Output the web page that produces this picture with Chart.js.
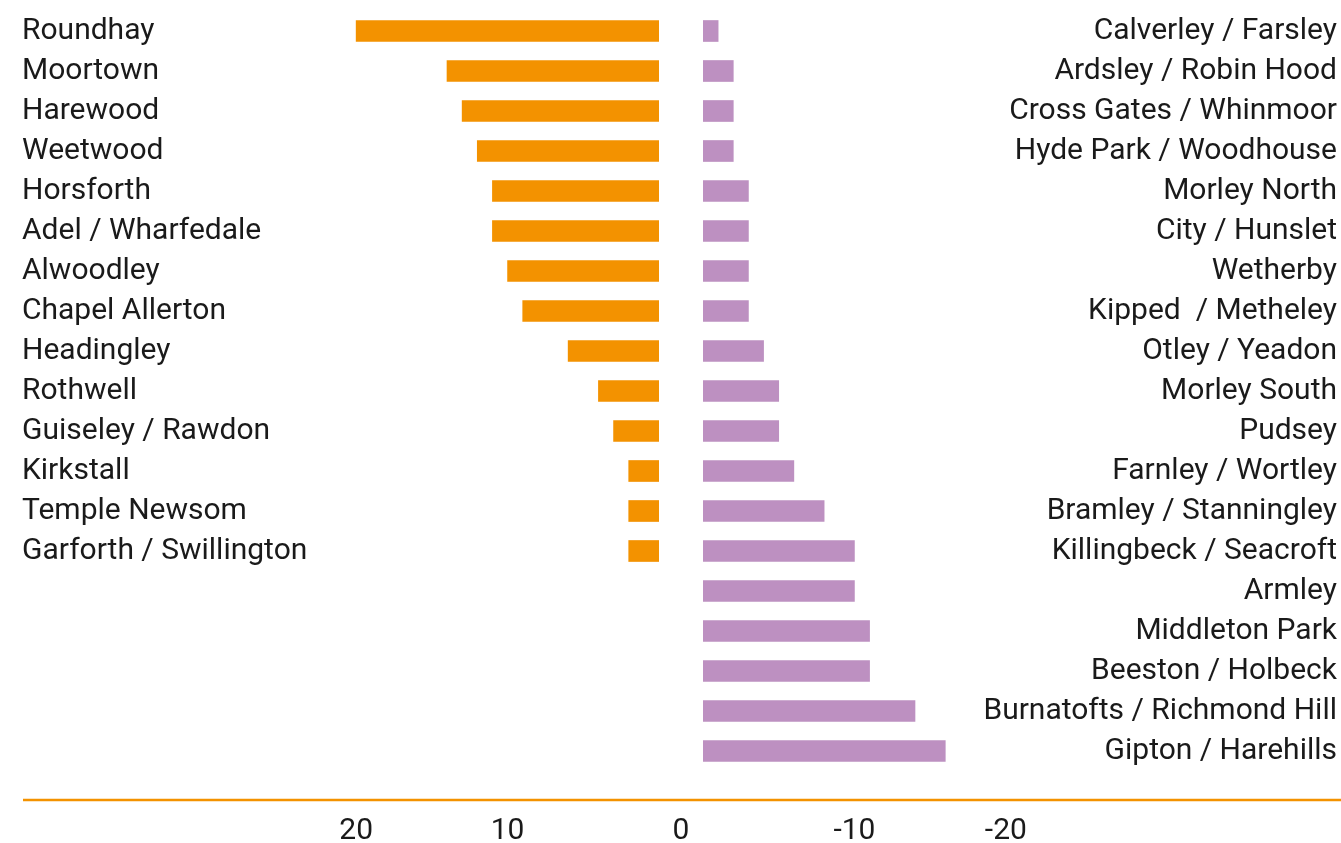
<!DOCTYPE html>
<html>
<head>
<meta charset="utf-8">
<script src="https://cdn.jsdelivr.net/npm/chart.js@4/dist/chart.umd.min.js"></script>
<style>
  html, body { margin: 0; padding: 0; background: #ffffff; }
  #wrap { position: relative; width: 1341px; height: 843px; }
  canvas { display: block; }
</style>
</head>
<body>
<div id="wrap"><canvas id="c" width="1341" height="843"></canvas></div>
<script>
// ---- Data ----
const leftNames = ["Roundhay", "Moortown", "Harewood", "Weetwood", "Horsforth", "Adel / Wharfedale",
  "Alwoodley", "Chapel Allerton", "Headingley", "Rothwell", "Guiseley / Rawdon", "Kirkstall",
  "Temple Newsom", "Garforth / Swillington"];
const leftValues = [20, 14, 13, 12, 11, 11, 10, 9, 6, 4, 3, 2, 2, 2];

const rightNames = ["Calverley / Farsley", "Ardsley / Robin Hood", "Cross Gates / Whinmoor",
  "Hyde Park / Woodhouse", "Morley North", "City / Hunslet", "Wetherby", "Kipped  / Metheley",
  "Otley / Yeadon", "Morley South", "Pudsey", "Farnley / Wortley", "Bramley / Stanningley",
  "Killingbeck / Seacroft", "Armley", "Middleton Park", "Beeston / Holbeck",
  "Burnatofts / Richmond Hill", "Gipton / Harehills"];
const rightValues = [-1, -2, -2, -2, -3, -3, -3, -3, -4, -5, -5, -6, -8, -10, -10, -11, -11, -14, -16];

const leftTicks = [20, 10];
const middleTicks = [0];
const rightTicks = [-10, -20];

// ---- Styles ----
const ORANGE = '#F39200';
const PURPLE = '#BD90C1';
const TEXT = '#1a1a1a';
const FONT = 'Roboto, "Noto Sans", sans-serif';

const leftLabels = leftNames.concat(Array(rightNames.length - leftNames.length).fill(''));

function setTicks(values) {
  return function (scale) { scale.ticks = values.map(v => ({ value: v })); };
}

const axisLinePlugin = {
  id: 'axisLine',
  afterDraw(chart) {
    const ctx = chart.ctx;
    const y = chart.chartArea.bottom + 29;
    ctx.save();
    ctx.strokeStyle = ORANGE;
    ctx.lineWidth = 2.5;
    ctx.beginPath();
    ctx.moveTo(23, y);
    ctx.lineTo(chart.width, y);
    ctx.stroke();
    ctx.restore();
  }
};

const xCommon = {
  type: 'linear',
  position: 'bottom',
  stack: 'x',
  reverse: true,
  grid: { display: false, drawTicks: false },
  border: { display: false },
  ticks: { color: TEXT, font: { family: FONT, size: 30 }, padding: 42, maxRotation: 0, autoSkip: false },
  afterFit(scale) { scale.height = 72; }
};

new Chart(document.getElementById('c'), {
  type: 'bar',
  data: {
    labels: rightNames,
    datasets: [
      {
        label: 'left',
        data: leftValues,
        xAxisID: 'xl',
        yAxisID: 'yl',
        backgroundColor: ORANGE,
        barThickness: 21,
        grouped: false
      },
      {
        label: 'right',
        data: rightValues,
        xAxisID: 'xr',
        yAxisID: 'yr',
        backgroundColor: PURPLE,
        barThickness: 21,
        grouped: false
      }
    ]
  },
  options: {
    indexAxis: 'y',
    responsive: false,
    animation: false,
    layout: { padding: { left: 22, right: 4, top: 11, bottom: 0 } },
    plugins: { legend: { display: false }, tooltip: { enabled: false } },
    scales: {
      xl: Object.assign({}, xCommon, {
        min: 0, max: 21, stackWeight: 318,
        afterBuildTicks: setTicks(leftTicks)
      }),
      xm: Object.assign({}, xCommon, {
        min: -1.45, max: 1.45, stackWeight: 44,
        afterBuildTicks: setTicks(middleTicks)
      }),
      xr: Object.assign({}, xCommon, {
        min: -21, max: 0, stackWeight: 318,
        afterBuildTicks: setTicks(rightTicks)
      }),
      yl: {
        type: 'category',
        position: 'left',
        labels: leftLabels,
        min: 0, max: leftLabels.length - 1,
        grid: { display: false, drawTicks: false },
        border: { display: false },
        ticks: { color: TEXT, font: { family: FONT, size: 30 }, crossAlign: 'far', padding: 0, autoSkip: false },
        afterFit(scale) { scale.width = 319; scale.paddingTop = 0; scale.paddingBottom = 0; }
      },
      yr: {
        type: 'category',
        position: 'right',
        labels: rightNames,
        min: 0, max: rightNames.length - 1,
        grid: { display: false, drawTicks: false },
        border: { display: false },
        ticks: { color: TEXT, font: { family: FONT, size: 30 }, mirror: true, crossAlign: 'near', padding: 316, autoSkip: false },
        afterFit(scale) { scale.width = 316; scale.paddingTop = 0; scale.paddingBottom = 0; }
      }
    }
  },
  plugins: [axisLinePlugin]
});
</script>
</body>
</html>
